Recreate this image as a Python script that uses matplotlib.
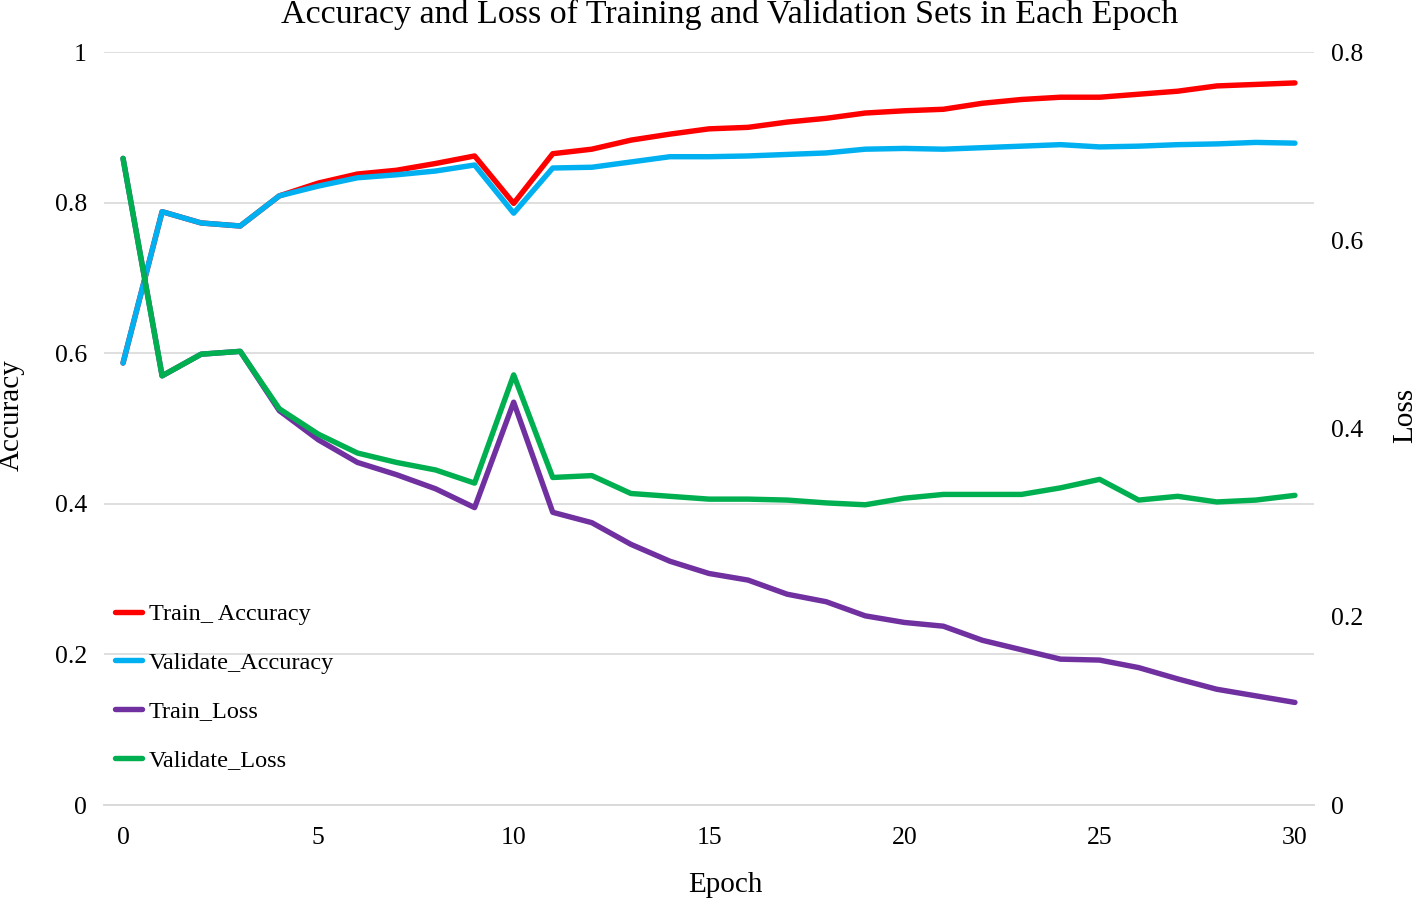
import matplotlib.pyplot as plt

plt.rcParams['font.family'] = ['Liberation Serif', 'DejaVu Serif']

# Data
epochs = list(range(31))
train_acc = [0.587, 0.788, 0.773, 0.769, 0.809, 0.826, 0.838, 0.843, 0.852, 0.862,
             0.799, 0.865, 0.871, 0.883, 0.891, 0.898, 0.900, 0.907, 0.912, 0.919,
             0.922, 0.924, 0.932, 0.937, 0.940, 0.940, 0.944, 0.948, 0.955, 0.957, 0.959]
val_acc = [0.587, 0.788, 0.773, 0.769, 0.809, 0.822, 0.833, 0.837, 0.842, 0.850,
           0.786, 0.846, 0.847, 0.854, 0.861, 0.861, 0.862, 0.864, 0.866, 0.871,
           0.872, 0.871, 0.873, 0.875, 0.877, 0.874, 0.875, 0.877, 0.878, 0.880, 0.879]
train_loss = [0.687, 0.456, 0.479, 0.482, 0.419, 0.388, 0.364, 0.351, 0.336, 0.316,
              0.428, 0.311, 0.300, 0.277, 0.259, 0.246, 0.239, 0.224, 0.216, 0.201,
              0.194, 0.190, 0.175, 0.165, 0.155, 0.154, 0.146, 0.134, 0.123, 0.116, 0.109]
val_loss = [0.687, 0.456, 0.479, 0.482, 0.421, 0.394, 0.374, 0.364, 0.356, 0.342,
            0.457, 0.348, 0.350, 0.331, 0.328, 0.325, 0.325, 0.324, 0.321, 0.319,
            0.326, 0.330, 0.330, 0.330, 0.337, 0.346, 0.324, 0.328, 0.322, 0.324, 0.329]

acc_ticks = [0, 0.2, 0.4, 0.6, 0.8, 1]
acc_labels = ['0', '0.2', '0.4', '0.6', '0.8', '1']
loss_ticks = [0, 0.2, 0.4, 0.6, 0.8]
loss_labels = ['0', '0.2', '0.4', '0.6', '0.8']
x_ticks = [0, 5, 10, 15, 20, 25, 30]

fig = plt.figure(figsize=(14.16, 9.02), dpi=100)
ax = fig.add_axes([0.0731, 0.1075, 0.8552, 0.8348])
ax2 = ax.twinx()

lw = 3.9
style = dict(lw=lw, solid_capstyle='round', solid_joinstyle='round')
l1, = ax.plot(epochs, train_acc, color='#FF0000', label='Train_ Accuracy', **style)
l2, = ax.plot(epochs, val_acc, color='#00B0F0', label='Validate_Accuracy', **style)
l3, = ax2.plot(epochs, train_loss, color='#7030A0', label='Train_Loss', **style)
l4, = ax2.plot(epochs, val_loss, color='#00B050', label='Validate_Loss', **style)

ax.set_xlim(-0.5, 30.5)
ax.set_ylim(0, 1)
ax2.set_ylim(0, 0.8)

ax.set_yticks(acc_ticks)
ax.set_yticklabels(acc_labels)
ax2.set_yticks(loss_ticks)
ax2.set_yticklabels(loss_labels)
ax.set_xticks(x_ticks)

ax.grid(axis='y', color='#D9D9D9', lw=1.2)
ax.set_axisbelow(True)
for a in (ax, ax2):
    for s in ('top', 'left', 'right'):
        a.spines[s].set_visible(False)
    a.spines['bottom'].set_color('#D9D9D9')
    a.spines['bottom'].set_linewidth(1.2)
    a.tick_params(length=0, labelsize=18.5, colors='black')
ax.tick_params(axis='y', pad=12)
ax2.tick_params(axis='y', pad=12)
ax.tick_params(axis='x', pad=16)

fig.text(730 / 1416, 1 - 14 / 902, 'Accuracy and Loss of Training and Validation Sets in Each Epoch',
         ha='center', va='center', fontsize=24.5)
fig.text(725 / 1416, 1 - 885 / 902, 'Epoch', ha='center', va='center', fontsize=21)
fig.text(12 / 1416, 1 - 415 / 902, 'Accuracy', ha='center', va='center', rotation=90, fontsize=21)
fig.text(1405 / 1416, 1 - 415 / 902, 'Loss', ha='center', va='center', rotation=90, fontsize=21)

ax2.legend(handles=[l1, l2, l3, l4], loc='upper left',
           bbox_to_anchor=(115 / 1416, 1 - 603 / 902), bbox_transform=fig.transFigure,
           frameon=False, fontsize=17.5, handlelength=1.1, handletextpad=0.3,
           labelspacing=1.1, borderpad=0, borderaxespad=0)

fig.savefig('out.png', dpi=100)
